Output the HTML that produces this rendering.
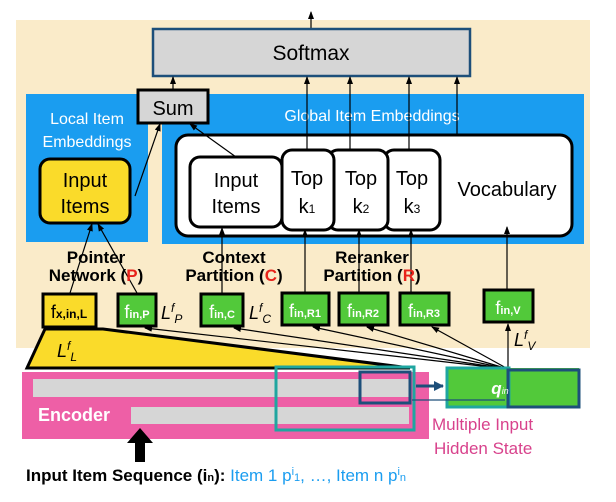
<!DOCTYPE html>
<html><head><style>
body{margin:0;background:#fff;}
svg{display:block;font-family:"Liberation Sans",Arial,sans-serif;}
</style></head><body>
<svg width="616" height="502" viewBox="0 0 616 502" xmlns="http://www.w3.org/2000/svg">
<defs>
<marker id="a" markerWidth="8" markerHeight="8" refX="7" refY="4" orient="auto" markerUnits="userSpaceOnUse"><path d="M0,1 L8,4 L0,7 z" fill="#000"/></marker>
<marker id="b" markerWidth="10" markerHeight="10" refX="9" refY="5" orient="auto" markerUnits="userSpaceOnUse"><path d="M0,0 L10,5 L0,10 z" fill="#1d4f7a"/></marker>
</defs>
<rect x="16" y="20" width="574" height="328" fill="#faebc9"/>
<!-- top arrow -->
<line x1="311" y1="28" x2="311" y2="12" stroke="#000" stroke-width="1.2" marker-end="url(#a)"/>
<rect x="153" y="29" width="317" height="47" fill="#d6d6d6" stroke="#1d4f7a" stroke-width="2.5"/>
<text x="311" y="60" font-size="21" text-anchor="middle">Softmax</text>
<!-- blue panels -->
<rect x="26" y="94" width="122" height="148" fill="#1a9df0"/>
<rect x="162" y="94" width="422" height="150" fill="#1a9df0"/>
<text x="87" y="124" font-size="16" fill="#fff" text-anchor="middle">Local Item</text>
<text x="87" y="147" font-size="16" fill="#fff" text-anchor="middle">Embeddings</text>
<text x="372" y="121" font-size="16" fill="#fff" text-anchor="middle">Global Item Embeddings</text>
<rect x="138" y="90" width="70" height="33" fill="#d6d6d6" stroke="#000" stroke-width="3"/>
<text x="173" y="115" font-size="20" text-anchor="middle">Sum</text>
<rect x="176" y="135" width="396" height="101" rx="12" fill="#fff" stroke="#000" stroke-width="3"/>
<rect x="40" y="159" width="90" height="64" rx="10" fill="#fadb2a" stroke="#000" stroke-width="3"/>
<text x="85" y="187" font-size="20" text-anchor="middle">Input</text>
<text x="85" y="213" font-size="20" text-anchor="middle">Items</text>
<rect x="384" y="150" width="56" height="80" rx="10" fill="#fff" stroke="#000" stroke-width="3"/>
<rect x="328" y="150" width="60" height="80" rx="10" fill="#fff" stroke="#000" stroke-width="3"/>
<rect x="282" y="150" width="52" height="80" rx="10" fill="#fff" stroke="#000" stroke-width="3"/>
<rect x="190" y="157" width="92" height="70" rx="10" fill="#fff" stroke="#000" stroke-width="3"/>
<text x="236" y="187" font-size="20" text-anchor="middle">Input</text>
<text x="236" y="213" font-size="20" text-anchor="middle">Items</text>
<text x="307" y="185" font-size="20" text-anchor="middle">Top</text>
<text x="307" y="213" font-size="20" text-anchor="middle">k<tspan font-size="12">1</tspan></text>
<text x="361" y="185" font-size="20" text-anchor="middle">Top</text>
<text x="361" y="213" font-size="20" text-anchor="middle">k<tspan font-size="12">2</tspan></text>
<text x="412" y="185" font-size="20" text-anchor="middle">Top</text>
<text x="412" y="213" font-size="20" text-anchor="middle">k<tspan font-size="12">3</tspan></text>
<text x="507" y="196" font-size="20" text-anchor="middle">Vocabulary</text>
<!-- arrows to softmax -->
<g stroke="#000" stroke-width="1.2" fill="none" marker-end="url(#a)">
<line x1="173" y1="90" x2="173" y2="77"/>
<line x1="307" y1="150" x2="307" y2="77"/>
<line x1="350" y1="150" x2="350" y2="77"/>
<line x1="409" y1="150" x2="409" y2="77"/>
<line x1="457" y1="135" x2="457" y2="77"/>
<line x1="236" y1="157" x2="190" y2="124"/>
<line x1="135" y1="196" x2="160" y2="124"/>
<line x1="70" y1="293" x2="92" y2="224"/>
<line x1="137" y1="293" x2="98" y2="224"/>
<line x1="222" y1="293" x2="222" y2="228"/>
<line x1="305" y1="293" x2="305" y2="230"/>
<line x1="359" y1="293" x2="359" y2="230"/>
<line x1="411" y1="293" x2="411" y2="230"/>
<line x1="507" y1="290" x2="507" y2="227"/>
</g>
<!-- labels -->
<g font-size="17" font-weight="bold" text-anchor="middle">
<text x="96" y="263">Pointer</text>
<text x="96" y="281">Network (<tspan fill="#e8231b">P</tspan>)</text>
<text x="234" y="263">Context</text>
<text x="234" y="281">Partition (<tspan fill="#e8231b">C</tspan>)</text>
<text x="372" y="263">Reranker</text>
<text x="372" y="281">Partition (<tspan fill="#e8231b">R</tspan>)</text>
</g>
<!-- trapezoid -->
<polygon points="45,329 103,329 410,368 27,368" fill="#fadb2a" stroke="#000" stroke-width="3"/>
<text x="57" y="357" font-size="18" font-style="italic">L<tspan font-size="12" dy="-7">f</tspan><tspan font-size="12" dy="11">L</tspan></text>
<!-- f boxes -->
<rect x="43" y="294" width="53" height="33" fill="#fadb2a" stroke="#000" stroke-width="3"/>
<text x="69" y="318" font-size="18" text-anchor="middle">f<tspan font-size="12" font-weight="bold">x,in,L</tspan></text>
<g fill="#52c93a" stroke="#000" stroke-width="3">
<rect x="118" y="294" width="38" height="32"/>
<rect x="201" y="294" width="42" height="32"/>
<rect x="282" y="293" width="47" height="32"/>
<rect x="339" y="293" width="49" height="32"/>
<rect x="400" y="293" width="49" height="32"/>
<rect x="484" y="290" width="49" height="32"/>
</g>
<g font-size="18" fill="#fff" text-anchor="middle">
<text x="137" y="318">f<tspan font-size="11" font-weight="bold">in,P</tspan></text>
<text x="222" y="318">f<tspan font-size="11" font-weight="bold">in,C</tspan></text>
<text x="305" y="317">f<tspan font-size="11" font-weight="bold">in,R1</tspan></text>
<text x="363" y="317">f<tspan font-size="11" font-weight="bold">in,R2</tspan></text>
<text x="424" y="317">f<tspan font-size="11" font-weight="bold">in,R3</tspan></text>
<text x="508" y="314">f<tspan font-size="11" font-weight="bold">in,V</tspan></text>
</g>
<g font-size="18" font-style="italic">
<text x="161" y="319">L<tspan font-size="12" dy="-7">f</tspan><tspan font-size="12" dy="11">P</tspan></text>
<text x="249" y="319">L<tspan font-size="12" dy="-7">f</tspan><tspan font-size="12" dy="11">C</tspan></text>
<text x="514" y="346">L<tspan font-size="12" dy="-7">f</tspan><tspan font-size="12" dy="11">V</tspan></text>
</g>
<!-- fan lines -->
<g stroke="#000" stroke-width="1.2" fill="none" marker-end="url(#a)">
<line x1="508" y1="369" x2="145" y2="328"/>
<line x1="508" y1="369" x2="234" y2="328"/>
<line x1="508" y1="369" x2="313" y2="327"/>
<line x1="508" y1="369" x2="367" y2="327"/>
<line x1="508" y1="369" x2="432" y2="327"/>
<line x1="508" y1="369" x2="508" y2="324"/>
</g>
<!-- encoder -->
<rect x="22" y="372" width="407" height="67" fill="#ee5fa6"/>
<rect x="33" y="379" width="376" height="18" fill="#d6d6d6"/>
<rect x="131" y="407" width="278" height="17" fill="#d6d6d6"/>
<text x="38" y="421" font-size="18" font-weight="bold" fill="#fff">Encoder</text>
<rect x="276" y="367" width="138" height="63" fill="none" stroke="#1fa6a0" stroke-width="3"/>
<rect x="360" y="372" width="50" height="31" fill="none" stroke="#1d4f7a" stroke-width="3"/>
<rect x="447" y="368" width="132" height="39" fill="#52c93a"/>
<rect x="447" y="368" width="62" height="39" fill="none" stroke="#1fa6a0" stroke-width="3"/>
<rect x="508" y="370" width="71" height="37" fill="none" stroke="#1d4f7a" stroke-width="3"/>
<text x="500" y="394" font-size="17" font-weight="bold" font-style="italic" fill="#fff" text-anchor="middle">q<tspan font-size="9" font-weight="normal">in</tspan></text>
<line x1="416" y1="386" x2="443" y2="386" stroke="#1d4f7a" stroke-width="3" marker-end="url(#b)"/>
<polyline points="412,400 505,400" stroke="#1d4f7a" stroke-width="1.2" fill="none"/>
<g font-size="17" fill="#d8428c">
<text x="432" y="430">Multiple Input</text>
<text x="434" y="454">Hidden State</text>
</g>
<!-- up arrow -->
<rect x="135" y="441" width="10" height="21" fill="#000"/>
<polygon points="127,443 140,428 153,443" fill="#000"/>
<text x="26" y="481" font-size="17" font-weight="bold">Input Item Sequence (i<tspan font-size="11">n</tspan>): <tspan font-weight="normal" fill="#1a9df0">Item 1 p<tspan font-size="11" dy="-6">i</tspan><tspan font-size="11" dy="6">1</tspan>, …, Item n p<tspan font-size="11" dy="-6">i</tspan><tspan font-size="11" dy="6">n</tspan></tspan></text>
</svg>
</body></html>
